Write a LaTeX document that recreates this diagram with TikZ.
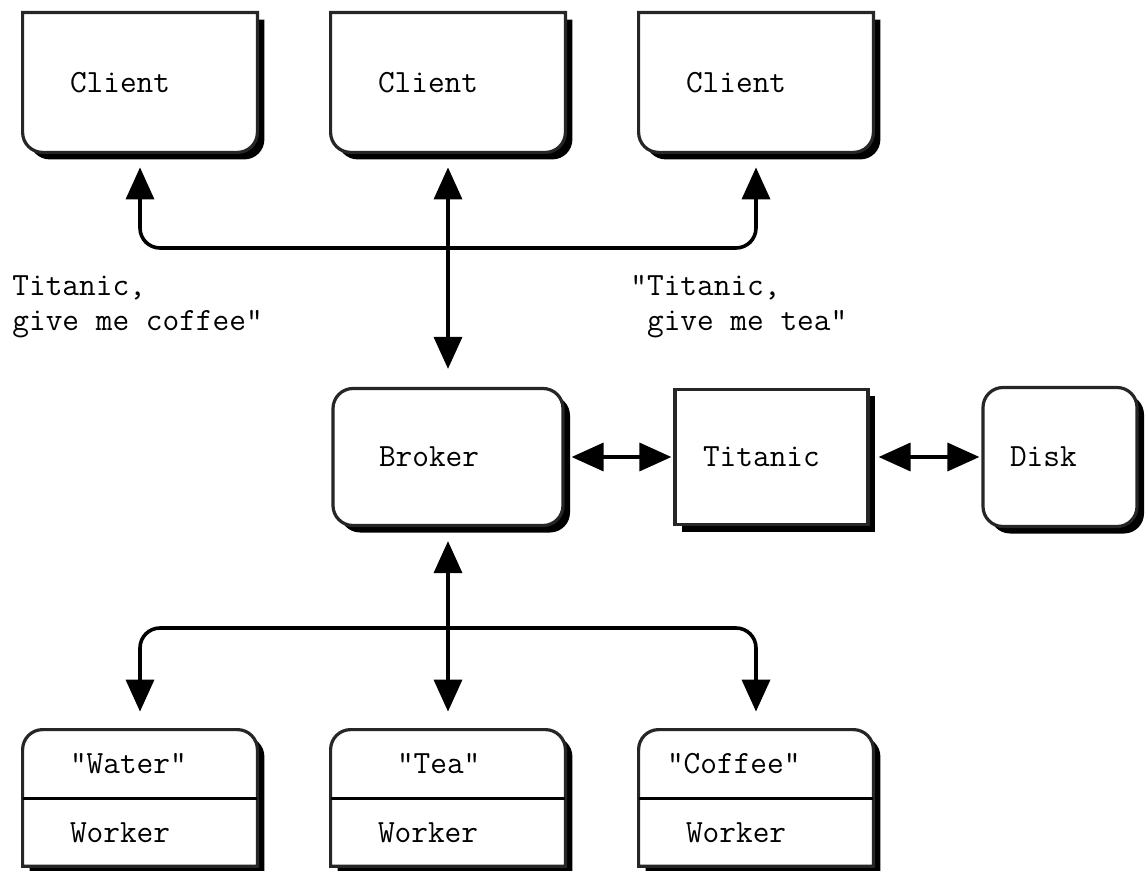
\documentclass[tikz,border=0pt]{standalone}
\usepackage{tikz}
\usetikzlibrary{positioning,arrows.meta,calc,shadows,backgrounds}

\begin{document}
\begin{tikzpicture}[
        x=0.5pt, y=0.5pt,
        every node/.style={font=\ttfamily\fontsize{16.2}{17.5}\selectfont},
        dshadow/.style={drop shadow={shadow xshift=3.5pt, shadow yshift=-3.5pt,
                        fill=black, opacity=1}},
        cbox/.style={align=left, text width=70pt, inner xsep=23.5pt, inner ysep=0pt,
                     minimum height=69.5pt},
        sbox/.style={draw=black!85, fill=white, line width=1.6pt, align=left,
                     inner ysep=0pt, dshadow},
        wbox/.style={align=left, inner ysep=0pt, minimum height=#1},
        outl/.style={draw=black!85, fill=white, line width=1.6pt, dshadow},
        arr/.style={line width=1.8pt,
                    {Triangle[length=16pt,width=14pt]}-{Triangle[length=16pt,width=14pt]}}
    ]
    \useasboundingbox (0,0) rectangle (1146,-871);

    % clients
    \foreach \i/\x in {1/140,2/448,3/756}
      \node[cbox] (c\i) at (\x,-82.5) {Client};

    % broker, titanic, disk
    \node[sbox, rounded corners=10pt, text width=69pt, inner xsep=23pt,
          minimum height=68.5pt] (brk) at (448,-457) {Broker};
    \node[sbox, text width=68.5pt, inner xsep=14pt,
          minimum height=67.5pt] (tit) at (771.5,-457) {Titanic};
    \node[sbox, rounded corners=10pt, text width=50pt, inner xsep=13.5pt,
          minimum height=69.5pt] (dsk) at (1060,-457) {Disk};

    % workers
    \foreach \i/\x/\drink/\pad/\tw in {1/140/Water/23.5pt/70pt,
                                       2/448/Tea/33pt/51pt,
                                       3/756/Coffee/14pt/89pt}{
      \node[wbox=34pt, inner xsep=\pad, text width=\tw] (wt\i) at (\x,-764) {"\drink"};
      \node[wbox=33.5pt, inner xsep=23.5pt, text width=70pt, below=0pt of wt\i] (wb\i) {Worker};
    }

    % box outlines
    \begin{scope}[on background layer]
      \foreach \i in {1,2,3}{
        \path[outl] (c\i.north west) -- (c\i.north east) -- ([yshift=10pt]c\i.south east)
          arc[start angle=0, end angle=-90, radius=10pt] -- ([xshift=10pt]c\i.south west)
          arc[start angle=270, end angle=180, radius=10pt] -- cycle;
        \path[outl] (wb\i.south west) -- ([yshift=-10pt]wt\i.north west)
          arc[start angle=180, end angle=90, radius=10pt] -- ([xshift=-10pt]wt\i.north east)
          arc[start angle=90, end angle=0, radius=10pt] -- (wb\i.south east) -- cycle;
        \draw[line width=1.6pt] (wt\i.south west) -- (wt\i.south east);
      }
    \end{scope}

    % requests
    \node[anchor=north west, inner sep=0pt, align=left] (req1) at (12,-275)
      {Titanic,\\give me coffee"};
    \node[anchor=north west, inner sep=0pt, align=left] (req2) at (630,-275)
      {"Titanic,\\~give me tea"};

    % connectors
    \coordinate (jt) at (448,-248);
    \coordinate (jb) at (448,-628);
    \draw[arr, rounded corners=10pt, shorten <=7.5pt, shorten >=7.5pt]
      (c1.south) |- (jt) -| (c3.south);
    \draw[arr, shorten <=7.5pt, shorten >=9pt] (c2.south) -- (brk.north);
    \draw[arr, shorten <=7pt, shorten >=9pt] (brk.south) -- (wt2.north);
    \draw[arr, rounded corners=10pt, shorten <=9pt, shorten >=9pt]
      (wt1.north) |- (jb) -| (wt3.north);
    \draw[arr, shorten <=3.5pt, shorten >=1pt] (brk.east) -- (tit.west);
    \draw[arr, shorten <=4.5pt, shorten >=1pt] (tit.east) -- (dsk.west);
\end{tikzpicture}
\end{document}
